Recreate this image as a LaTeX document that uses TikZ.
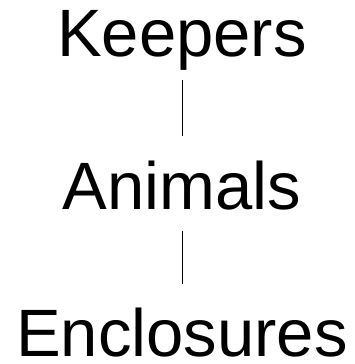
\documentclass[tikz,border=0pt]{standalone}
\usepackage{fontspec}
\setmainfont{Liberation Sans}
\begin{document}
\begin{tikzpicture}[x=1pt,y=1pt,
  label text/.style={inner sep=0pt, anchor=base, font=\fontsize{67}{80}\selectfont},
  link/.style={draw=black, line width=0.9pt}]
\useasboundingbox (0,0) rectangle (355,364);
\node[label text] (k) at (182,307) {Keepers};
\node[label text] (a) at (182,154) {Animals};
\node[label text] (e) at (182,7) {Enclosures};
\draw[link, shorten <=9pt, shorten >=25pt] (k.south) -- (a.north);
\draw[link, shorten <=20pt, shorten >=24pt] (a.south) -- (e.north);
\end{tikzpicture}
\end{document}
